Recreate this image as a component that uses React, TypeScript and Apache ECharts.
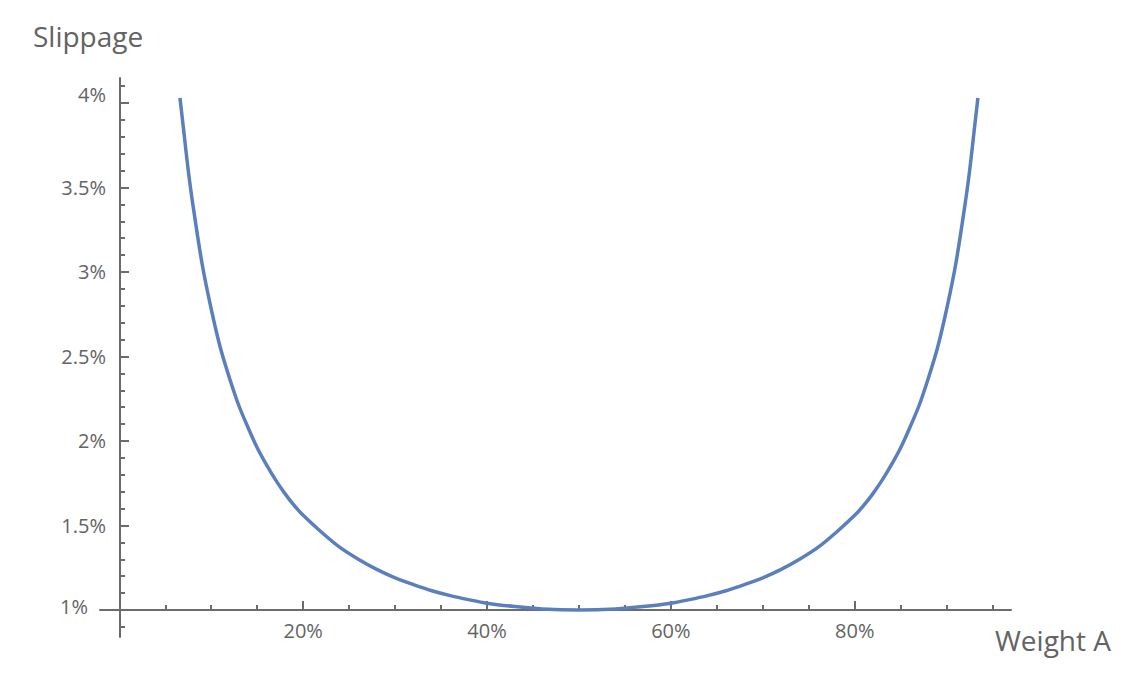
import React, { useEffect, useRef } from "react";
import * as echarts from "echarts";

// Weight A (%) and slippage (%)
const weightA: number[] = [
  6.6, 7, 7.5, 8, 9, 10, 11, 12, 13, 14, 15, 16, 17, 18, 19, 20, 22, 24, 26, 28,
  30, 32, 34, 36, 38, 40, 43, 46, 50, 54, 57, 60, 62, 64, 66, 68, 70, 72, 74, 76,
  78, 80, 81, 82, 83, 84, 85, 86, 87, 88, 89, 90, 91, 92, 92.5, 93, 93.4,
];
const slippage: number[] = [
  4.03, 3.84, 3.6, 3.4, 3.05, 2.78, 2.55, 2.37, 2.21, 2.08, 1.96, 1.86, 1.77,
  1.69, 1.62, 1.56, 1.46, 1.37, 1.3, 1.24, 1.19, 1.15, 1.114, 1.085, 1.061, 1.04,
  1.02, 1.006, 1.0, 1.006, 1.02, 1.04, 1.061, 1.085, 1.114, 1.15, 1.19, 1.24,
  1.3, 1.37, 1.46, 1.56, 1.62, 1.69, 1.77, 1.86, 1.96, 2.08, 2.21, 2.37, 2.55,
  2.78, 3.05, 3.4, 3.6, 3.84, 4.03,
];

const xMajorTicks: number[] = [20, 40, 60, 80];
const xMinorTicks: number[] = [5, 10, 15, 25, 30, 35, 45, 50, 55, 65, 70, 75, 85, 90, 95];
const yLabels: number[] = [1, 1.5, 2, 2.5, 3, 3.5, 4];
const yMajorTicks: number[] = [1.5, 2, 2.5, 3, 3.5, 4];
const yMinorTicks: number[] = [
  0.9, 1.1, 1.2, 1.3, 1.4, 1.6, 1.7, 1.8, 1.9, 2.1, 2.2, 2.3, 2.4, 2.6, 2.7, 2.8,
  2.9, 3.1, 3.2, 3.3, 3.4, 3.6, 3.7, 3.8, 3.9, 4.1,
];

const xTitle = "Weight A";
const yTitle = "Slippage";

const AXIS_COLOR = "#6b6b6b";
const TEXT_COLOR = "#636363";
const LINE_COLOR = "#5b7fbd";
const FONT = "'Open Sans', 'Noto Sans', sans-serif";
const LABEL_SIZE = 20;

export default function App() {
  const ref = useRef<HTMLDivElement>(null);

  useEffect(() => {
    document.body.style.margin = "0";
    if (!ref.current) return;
    const chart = echarts.init(ref.current, undefined, { renderer: "svg" });

    const xMin = -2.1;
    const xMax = 97.0;
    const yMin = 0.84;
    const yMax = 4.148;

    const fmt = (v: number) => {
      const r = Math.round(v * 10) / 10;
      return `${r}%`;
    };

    chart.setOption({
      animation: false,
      backgroundColor: "#ffffff",
      grid: {
        left: 100,
        right: 129,
        top: 78,
        bottom: 41,
        containLabel: false,
        outerBoundsMode: "none",
      },
      xAxis: [
        {
          type: "value",
          min: xMin,
          max: xMax,
          position: "bottom",
          offset: -27,
          axisLine: { show: true, onZero: false, lineStyle: { color: AXIS_COLOR, width: 2 } },
          axisTick: {
            show: true,
            inside: true,
            length: 9,
            customValues: xMajorTicks,
            lineStyle: { color: AXIS_COLOR, width: 2 },
          },
          axisLabel: {
            customValues: xMajorTicks,
            formatter: (v: number) => fmt(v),
            margin: 10,
            color: TEXT_COLOR,
            fontSize: LABEL_SIZE,
            fontFamily: FONT,
          },
          splitLine: { show: false },
        },
        {
          type: "value",
          min: xMin,
          max: xMax,
          position: "bottom",
          offset: -27,
          axisLine: { show: false, onZero: false },
          axisTick: {
            show: true,
            inside: true,
            length: 5,
            customValues: xMinorTicks,
            lineStyle: { color: AXIS_COLOR, width: 2 },
          },
          axisLabel: { show: false },
          splitLine: { show: false },
        },
      ],
      yAxis: [
        {
          type: "value",
          min: yMin,
          max: yMax,
          position: "left",
          offset: -20,
          axisLine: { show: true, onZero: false, lineStyle: { color: AXIS_COLOR, width: 2 } },
          axisTick: {
            show: true,
            inside: true,
            length: 9,
            customValues: yMajorTicks,
            lineStyle: { color: AXIS_COLOR, width: 2 },
          },
          axisLabel: {
            customValues: yLabels,
            margin: 14,
            color: TEXT_COLOR,
            fontSize: LABEL_SIZE,
            fontFamily: FONT,
            formatter: (v: number) => {
              const t = fmt(v);
              if (Math.abs(v - 1) < 1e-6) return `{lo|${t}}`;
              if (Math.abs(v - 4) < 1e-6) return `{hi|${t}}`;
              return t;
            },
            rich: {
              lo: {
                color: TEXT_COLOR,
                fontSize: LABEL_SIZE,
                fontFamily: FONT,
                padding: [0, 18, 6, 0],
              },
              hi: {
                color: TEXT_COLOR,
                fontSize: LABEL_SIZE,
                fontFamily: FONT,
                padding: [0, 0, 18, 0],
              },
            },
          },
          splitLine: { show: false },
        },
        {
          type: "value",
          min: yMin,
          max: yMax,
          position: "left",
          offset: -20,
          axisLine: { show: false, onZero: false },
          axisTick: {
            show: true,
            inside: true,
            length: 5,
            customValues: yMinorTicks,
            lineStyle: { color: AXIS_COLOR, width: 2 },
          },
          axisLabel: { show: false },
          splitLine: { show: false },
        },
      ],
      graphic: [
        {
          type: "text",
          left: 33,
          top: 22,
          style: {
            text: yTitle,
            fill: TEXT_COLOR,
            fontSize: 28,
            fontFamily: FONT,
          },
        },
        {
          type: "text",
          left: 995,
          top: 626,
          style: {
            text: xTitle,
            fill: TEXT_COLOR,
            fontSize: 28,
            fontFamily: FONT,
          },
        },
      ],
      series: [
        {
          type: "line",
          xAxisIndex: 0,
          yAxisIndex: 0,
          data: weightA.map((w, i) => [w, slippage[i]]),
          smooth: 0.3,
          showSymbol: false,
          symbol: "none",
          lineStyle: { color: LINE_COLOR, width: 3.5 },
          silent: true,
        },
      ],
    });

    return () => chart.dispose();
  }, []);

  return (
    <div
      ref={ref}
      style={{ position: "absolute", left: 0, top: 0, width: 1140, height: 678 }}
    />
  );
}
